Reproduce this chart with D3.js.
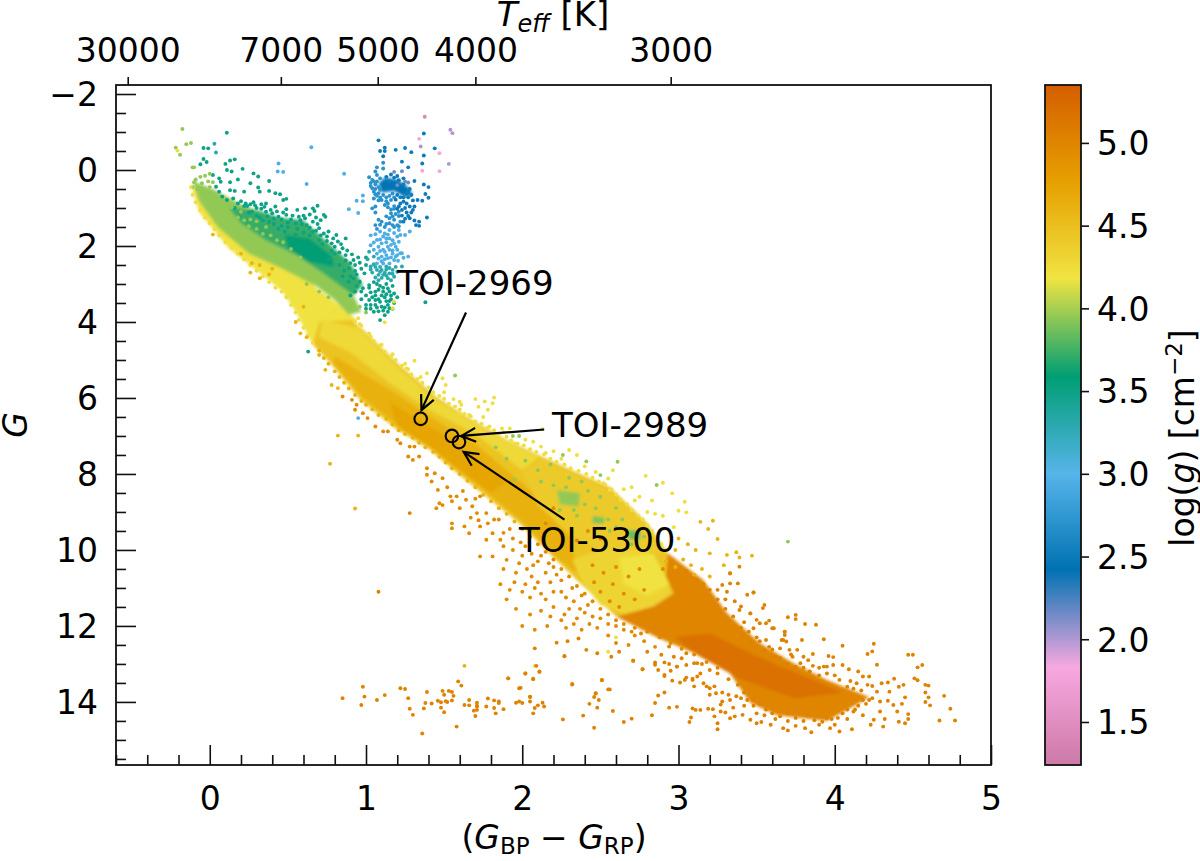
<!DOCTYPE html>
<html><head><meta charset="utf-8">
<script src="https://cdn.jsdelivr.net/npm/d3@7"></script>
<style>html,body{margin:0;padding:0;background:#fff}svg{display:block}text{font-family:"DejaVu Sans";fill:#000}</style>
</head><body><svg id="c" width="1200" height="861"></svg>
<script>
// ---- axis contents ----
const xTicks=[0,1,2,3,4,5];
const gTicks=[-2,0,2,4,6,8,10,12,14];
const teffLabels=["30000","7000","5000","4000","3000"];
const teffAtColour=[-0.525,0.455,1.075,1.70,2.95];
const loggTicks=[1.5,2,2.5,3,3.5,4,4.5,5];
const cmapLogg=[1.24,1.83,2.42,3.0,3.59,4.18,4.77,5.35];
const cmapColours=["#cc79a7","#f7a8e0","#0072b2","#56b4e9","#009e73","#f0e442","#e69f00","#d55e00"];

// ---- dense populations: outlines [colour, G] ----
const outlineYellowTurnoff=[[-.12,.4],[-.07,1.1],[.12,2.05],[.31,2.67],[.465,3.2],[.55,3.73],[.66,4.6],[.76,4.87],[.93,4.87],[.93,3.9],[.8,3.46],[.68,3.1],[.465,2.15],[.25,1.62],[.04,1],[-.09,.48]];
const outlineLimeTurnoff=[[-.11,.28],[.02,.5],[.2,.9],[.4,1.2],[.62,1.7],[.805,2.6],[.93,3.38],[.97,3.73],[.89,3.81],[.8,3.42],[.68,3.05],[.465,2.6],[.25,2.2],[.05,1.5],[-.07,.8]];
const outlineGreenTurnoff=[[.12,.98],[.32,1.08],[.45,1.25],[.6,1.32],[.74,1.85],[.9,2.45],[.98,3.03],[.92,3.3],[.72,2.7],[.56,2.25],[.36,1.85],[.2,1.4]];
const outlineDarkGreenCore=[[.48,1.7],[.64,1.8],[.78,2.25],[.8,2.55],[.63,2.42],[.5,2.05]];
const outlineMainBand=[[.66,4.6],[.77,5.08],[.96,6.05],[1.2,6.84],[1.41,7.37],[1.56,7.9],[1.77,8.6],[1.98,9.3],[2.2,10.2],[2.35,10.8],[2.6,11.75],[2.84,11.49],[2.97,11.14],[2.93,10.08],[2.8,9.29],[2.56,8.34],[2.32,7.9],[2.13,7.55],[1.9,7.1],[1.65,6.5],[1.45,5.97],[1.2,5.08],[.98,4.2],[.91,3.95],[.7,4.0]];
const outlineBandLower=[[.8,4.9],[1,5.4],[1.2,5.9],[1.45,6.6],[1.7,7.2],[1.9,7.9],[2.1,8.6],[2.3,9.4],[2.35,10.6],[2.2,10.15],[2.0,9.25],[1.79,8.55],[1.58,7.85],[1.43,7.32],[1.22,6.78],[.98,6.0],[.79,5.08]];
const outlineBandCore=[[1.15,6.1],[1.45,6.85],[1.7,7.55],[1.9,8.2],[1.8,8.5],[1.56,7.8],[1.41,7.3],[1.2,6.75]];
const outlineBandUpper=[[.72,3.95],[.95,4.15],[1.18,5.1],[1.43,6.0],[1.63,6.5],[1.88,7.1],[2.11,7.55],[2.0,7.9],[1.7,6.95],[1.4,6.3],[1.15,5.6],[.9,4.8],[.7,4.4]];
const outlineM1Mix=[[2.13,7.6],[2.3,7.95],[2.54,8.4],[2.78,9.3],[2.91,10.08],[2.5,10],[2.3,9.6],[2.1,8.8],[2,7.95]];
const outlineM1Yellow=[[2.32,10.26],[2.5,10],[2.8,10],[2.92,10.7],[2.95,11.14],[2.84,11.45],[2.67,11.7],[2.5,11.45],[2.39,10.88]];
const outlineM1Bright=[[2.62,10.2],[2.84,10.1],[2.94,10.9],[2.8,11.2],[2.65,10.9]];
const outlineLateOrange=[[2.93,10.08],[3.16,10.8],[3.31,11.66],[3.52,12.45],[3.73,12.97],[3.95,13.42],[4.22,13.87],[4.16,14.03],[3.95,14.5],[3.63,14.35],[3.46,14.03],[3.33,13.25],[3.09,12.7],[2.86,12.3],[2.6,11.75],[2.84,11.49],[2.97,11.14],[2.92,10.7]];
const outlineLateCore=[[3.2,12.2],[3.5,12.8],[3.85,13.4],[4.05,13.75],[3.75,13.9],[3.4,13.4],[3.1,12.7],[2.98,12.3]];
const outlineClump=[[1.08,.35],[1.12,.2],[1.2,.25],[1.27,.45],[1.3,.65],[1.25,.72],[1.18,.55],[1.1,.6]];
const outlineGreenPatchA=[[2.22,8.42],[2.37,8.5],[2.36,8.86],[2.24,8.8]];
const outlineGreenPatchB=[[2.45,9.1],[2.53,9.15],[2.52,9.32],[2.45,9.3]];
const outlineGreenPatchC=[[2.67,9.47],[2.76,9.5],[2.75,9.76],[2.68,9.72]];

// ---- individual stars [colour, G] ----
const rareMagenta=[[1.376,-1.40]];
const rarePurple=[[1.54,-1.06],[1.553,-.97],[1.35,-.62],[1.53,-.16]];
const rarePink=[[1.34,-.82],[1.47,-.44],[1.47,.03],[1.36,.02]];
const rareViolet=[[1.18,.05],[1.23,.03],[1.27,.33],[1.25,.3],[1.2,.4]];
const giantsDeepBlue=[[1.08,-.78],[1.09,-.5],[1.12,-.59],[1.12,-.5],[1.11,-.36],[1.19,-.53],[1.25,-.58],[1.29,-.47],[1.37,-.96],[1.44,-.57],[1.37,-.38],[1.36,-.17],[1.23,-.22],[1.27,-.07],[1.31,.29],[1.37,.38],[1.4,.45],[1.38,.63],[1.4,.73],[1.36,.81],[1.33,.79],[1.39,1.25],[1.31,1.33],[1.34,1.36],[1.32,1.45],[1.34,1.47],[1.29,1.12],[1.31,.96],[1.28,.96],[1.26,.88],[1.24,.83],[1.22,.88],[1.21,.96],[1.27,1.21],[1.28,1.27],[1.24,1.36],[1.29,.66],[1.27,.72],[1.3,.8],[1.25,1.0],[1.22,.72],[1.26,.62],[1.2,.66],[1.15,.3],[1.18,.2],[1.21,.27],[1.24,.38],[1.28,.5],[1.27,.57],[1.23,1.05],[1.2,1.02],[1.26,1.12],[1.23,1.2],[1.25,1.28],[1.3,1.05],[1.19,.78],[1.24,.72],[1.16,.12],[1.2,.16],[1.24,.22],[1.13,.18]];
const giantsBlue=[[1.11,-.19],[1.07,-.07],[1.11,-.04],[1.06,.04],[1.02,.19],[1.03,.42],[1.07,.13],[1.05,.75],[1.05,.57],[1.08,.61],[1.1,.79],[1.12,.92],[1.14,.88],[1.16,.79],[1.16,1.14],[1.15,1.27],[1.21,1.21],[1.21,1.1],[1.18,1.31],[1.22,1.36],[1.17,1.45],[1.08,1.31],[1.06,1.45],[1.09,1.44],[1.04,1.01],[1.06,.96],[1.06,1.12],[1.07,.3],[1.09,.22],[1.05,.3],[1.08,.45],[1.11,.66],[1.13,.72],[1.04,.48],[1.09,.72],[1.07,.68],[1.18,.72],[1.14,.98],[1.18,1.02],[1.19,1.16],[1.13,1.42],[1.2,1.45],[1.06,.38],[1.04,.26],[1.03,.34],[1.06,.5],[1.09,.52],[1.06,.64],[1.08,.8],[1.13,.82],[1.15,.68],[1.17,.62],[1.18,.95],[1.16,1.04],[1.17,1.22],[1.13,1.22],[1.1,1.36],[1.12,1.5],[1.15,1.4],[1.18,1.5],[1.21,1.48],[1.07,1.55]];
const giantsPale=[[.65,-.6],[.44,-.17],[.435,.04],[.47,.05],[.86,.1],[.62,.37],[.98,.67],[.94,.81],[.98,.82],[.89,1.03],[.95,1.13],[1.12,1.67],[1.15,1.58],[1.21,1.58],[1.2,1.75],[1.15,1.8],[1.11,1.75],[1.06,1.69],[1.09,1.62],[1.22,1.71],[1.28,1.62],[1.25,1.71],[1.16,1.97],[1.19,2.02],[1.21,1.89],[1.19,2.28],[1.22,2.19],[1.18,2.37],[1.11,2.1],[1.08,2.02],[1.05,1.91],[1.13,2.24],[1.1,2.28],[1.07,2.46],[1.15,2.46],[1.11,2.46],[1.23,2.19],[1.24,2.31],[1.27,2.28],[1.205,2.39],[1.13,1.9],[1.17,2.12],[1.09,1.83],[1.14,2.02],[1.2,2.1],[1.07,2.2],[1.12,2.35],[1.16,2.3],[1.03,1.72],[.95,6.53],[1.18,1.66],[1.14,1.7],[1.17,1.85],[1.13,1.8],[1.1,1.93],[1.07,1.84],[1.18,1.93],[1.15,2.1],[1.12,2.15],[1.09,2.13],[1.17,2.2],[1.2,2.24],[1.14,2.32],[1.1,2.4],[1.08,2.33],[1.05,2.1],[1.03,1.98]];
const giantsTeal=[[1.02,2.15],[1.05,2.28],[1.03,2.54],[1.07,2.63],[1.1,2.63],[1.13,2.54],[1.17,2.63],[1.15,2.72],[1.11,2.76],[1.08,2.76],[1.18,2.81],[1.14,2.85],[1.23,2.54],[1.01,2.35],[1.05,2.48],[1.12,2.7],[1.09,2.55],[1.19,2.55],[.03,-.69],[.04,-.46],[1.04,2.7],[1.08,2.9],[1.16,2.9],[1.06,2.55],[1.09,2.68],[1.13,2.62],[1.15,2.58],[1.17,2.73],[1.13,2.78],[1.1,2.84],[1.06,2.83],[1.03,2.62],[1.2,2.68]];
const giantsGreen=[[1.05,2.95],[1.09,3.05],[1.13,3.0],[1.17,3.05],[1.02,3.1],[1.06,3.2],[1.11,3.2],[1.15,3.2],[1.18,3.25],[1.04,3.35],[1.08,3.4],[1.12,3.35],[1.16,3.4],[1.18,3.5],[1.06,3.55],[1.1,3.6],[1.14,3.55],[1.17,3.65],[1.05,3.73],[1.14,3.73],[1.09,3.95],[1.38,3.48],[.63,4.78],[1.03,3.55],[1.08,3.72],[1.12,3.82],[1.15,3.45],[1.2,3.35],[1.0,3.3],[.97,3.4],[.93,3.2],[.9,3.3],[1.0,3.55],[1.07,3.0],[1.11,3.1],[1.14,3.12],[1.08,3.15],[1.03,3.22],[1.06,3.3],[1.1,3.3],[1.13,3.27],[1.16,3.3],[1.09,3.47],[1.13,3.45],[1.06,3.42],[1.02,3.42],[1.12,3.62],[1.15,3.64],[1.03,3.65],[1.0,3.65],[1.07,3.62],[1.11,3.7]];
const turnoffGreen=[[.109,-.98],[-.04,-.58],[-.01,-.57],[-.04,-.29],[-.02,-.21],[-.06,-.15],[.1,-.16],[.13,-.25],[.16,-.28],[.11,0],[.14,.04],[.21,-.03],[.18,.25],[.28,.09],[.31,.17],[.26,.35],[.38,.29],[.31,.46],[.32,.57],[.22,.57],[.13,.53],[.16,.55],[.13,.32],[.06,.22],[.02,.13],[.07,.31],[.04,.44],[.06,.57],[.08,.7],[.11,.79],[.15,.75],[.38,.55],[.42,.61],[.45,.64],[.47,.79],[.49,.76],[.36,.88],[.42,.96],[.49,1.03],[.4,1.14],[.44,1.23],[.49,1.18],[.56,1.05],[.61,1.01],[.66,1.01],[.69,.94],[.67,1.08],[.73,1.18],[.74,1.23],[.57,1.23],[.61,1.27],[.66,1.36],[.7,1.53],[.73,1.67],[.78,1.93],[.81,1.71],[.82,1.88],[.87,1.8],[.78,2.13],[.85,2.06],[.87,2.24],[.92,2.37],[.93,2.5],[1,2.3],[1,2.5],[.99,2.72],[.89,2.59],[.83,2.5],[.85,2.8],[.89,2.94],[.96,2.94],[1.02,3.03],[.98,3.11],[.33,.9],[.28,.85],[.24,.95],[.3,1.0],[.36,1.1],[.32,1.25],[.52,1.3],[.55,1.4],[.62,1.45],[.68,1.6],[.75,1.75],[.72,1.95],[.8,2.2],[.76,2.35],[.9,2.8],[.94,2.75],[.97,3.2],[.94,3.05],[.22,.95],[.18,.88],[.27,1.1],[.16,1.0],
 [.2,.82],[.23,.88],[.26,.9],[.29,.93],[.33,1.02],[.35,.97],[.39,1.05],[.43,1.09],[.47,1.12],[.46,1.3],[.41,1.28],[.37,1.22],[.34,1.33],[.3,1.2],[.25,1.12],[.5,1.38],[.53,1.2],[.58,1.32],[.6,1.2],[.64,1.17],[.68,1.25],[.71,1.32],[.69,1.42],[.64,1.52],[.59,1.42],[.56,1.55],[.5,1.5],[.46,1.47],[.41,1.42],[.38,1.37],[.66,1.62],[.71,1.72],[.76,1.62],[.79,1.8],[.75,1.87],[.84,1.95],[.8,2.02],[.88,2.12],[.83,2.17],[.91,2.22],[.95,2.3],[.9,2.45],[.96,2.44],[.97,2.6],[.93,2.66],[.86,2.65],[.92,2.85],[.87,2.38],[.7,1.85],[.64,1.72],[.6,1.65],[.55,1.7],[.48,1.62],[.44,1.55]];
const turnoffLime=[[-.175,-1.08],[-.15,-.68],[-.12,-.71],[-.11,-.07],[-.1,-.07],[-.218,-.59],[-.19,-.4],[.0,.1],[-.03,.15],[-.06,.18],[-.09,.25],[-.1,.32],[-.05,.35],[-.01,.3],[.02,.32],[.0,.45],[.05,.7],[.09,.95],[.14,.98],[.2,1.1],[.26,1.3],[.3,1.35],[.36,1.5],[.62,3.0],[.7,3.2],[.76,3.35],[.9,3.55],[.96,3.6],[1.0,3.75],[.86,3.45],[2.61,7.68],[2.86,8.29],[3.7,9.78],[1.94,7.0],[1.98,7.0],[2.26,7.5],[2.41,7.67],[2.5,8.03],[1.57,5.41],[2.3,8.1],[2.38,8.2],[2.18,7.75],[2.1,7.9],[2.02,7.65],[1.9,7.6],[1.83,7.3],[2.42,8.45],[2.5,8.6],[2.6,8.9],[2.64,9.2],[2.24,8.95],[2.12,8.2],[1.95,8.15],[2.35,9.1],[2.56,9.5],
 [-.11,.45],[-.08,.5],[-.05,.48],[-.02,.55],[.01,.62],[.03,.8],[.07,.82],[.11,1.02],[.13,1.18],[.18,1.25],[.22,1.32],[.25,1.48],[.3,1.55],[.34,1.68],[.39,1.72],[.43,1.85],[.47,1.9],[.52,2.08],[.58,2.3],[.63,2.6],[.68,2.75],[.73,2.95],[.78,3.1],[.82,3.25],[.86,3.2],[2.2,8.3],[2.28,8.35],[2.33,8.95],[2.4,8.8],[2.47,8.9],[2.55,9.2],[2.6,9.4],[2.65,9.7],[2.7,9.85],[2.78,9.65]];
const starsYellow=[[-.207,-.51],[1.12,4.01],[1.17,3.64],[1.18,3.46],[.8,3.72],[.95,3.9],[1.31,5.02],[1.27,5.24],[1.39,5.35],[1.35,5.45],[1.49,5.48],[1.51,5.66],[1.56,6.03],[1.61,6.18],[1.7,6.03],[1.76,6.09],[1.82,5.99],[1.81,6.14],[1.78,6.31],[1.72,6.23],[1.66,6.45],[1.79,6.75],[1.87,6.8],[1.92,6.8],[2.13,6.82],[2.07,7.15],[2.12,7.28],[2.15,7.45],[2.3,7.37],[2.35,7.5],[2.52,8.24],[2.56,8.42],[2.58,7.9],[2.79,8.05],[2.9,8.23],[2.96,8.51],[3.04,8.73],[3.0,8.97],[3.05,9.01],[2.75,8.6],[2.7,8.35],[2.83,8.7],[2.9,9.1],[2.97,9.4],[2.47,7.95],[2.55,8.12],[.96,4.05],[1.02,4.3],[1.1,4.6],[1.17,4.85],[1.25,5.1],[1.36,5.6],[1.6,6.4],[1.95,7.2],[2.6,12.3],[2.08,13.05],[2.55,12.68],
 [-.12,.45],[-.11,.65],[-.09,.85],[-.06,1.05],[-.03,1.25],[0,1.4],[.03,1.55],[.06,1.72],[.1,1.9],[.14,2.05],[.18,2.2],[.22,2.35],[.26,2.5],[.3,2.65],[.34,2.8],[.38,2.95],[.42,3.1],[.46,3.2],[.49,3.35],[.52,3.55],[.55,3.75],[.57,3.95],[.6,4.15],[.63,4.35],[.66,4.55],[.93,3.98],[.97,4.1],[.99,4.3],[1.03,4.38],[1.05,4.5],[1.09,4.62],[1.12,4.78],[1.16,4.92],[1.19,5.0],[1.23,5.15],[1.26,5.22],[1.29,5.38],[1.33,5.5],[1.36,5.62],[1.4,5.72],[1.43,5.85],[1.47,5.95],[1.5,6.02],[1.53,6.15],[1.57,6.22],[1.6,6.3],[1.63,6.42],[1.67,6.48],[1.7,6.62],[1.74,6.68],[1.78,6.78],[1.82,6.85],[1.85,6.95],[1.9,7.02],[1.93,7.12],[1.97,7.2],[2.01,7.25],[2.05,7.35],[2.09,7.42],[2.14,7.48],[2.18,7.6],[2.22,7.68],[2.27,7.75],[2.31,7.85],[2.36,7.92],[2.41,8.0],[2.45,8.1],[2.49,8.2],[2.53,8.28],[2.57,8.4],[2.6,8.55],[2.63,8.68],[2.67,8.8],[2.7,8.95],[2.74,9.1],[2.77,9.2],[2.8,9.35],[2.83,9.5],[2.86,9.65],[2.89,9.85],[2.92,10.0],[1.5,5.85],[1.6,6.1],[1.75,6.5],[1.88,6.9],[2.02,7.1],[2.2,7.4],[2.25,7.6],[2.4,7.8],[2.65,8.4],[2.72,8.7],[2.85,9.05],[2.8,9.0],[2.9,9.45]];
const starsAmber=[[3.14,9.26],[3.22,9.23],[3.19,9.45],[3.25,9.71],[.82,6.99],[.95,6.99],[.77,7.73],[.93,8.91],[3.0,9.7],[3.06,9.85],[3.11,10.0],[2.98,10.0],[.6,3.6],[.62,4.4],[.7,4.87],[.74,5.26],[.78,5.66],[.82,5.74],[3.2,10.09],[3.29,10.4],[3.31,10.13],[3.37,10.06],[3.39,10.2],[3.47,10.15],[.32,2.5],[.26,2.7],[.32,2.85],[.38,2.75],[.4,2.6],[.27,2.45],[.2,2.2],[.02,1.7],[.55,4.0],[.58,4.3],[1.63,13.05],[2.92,10.3],[2.98,10.45],[3.03,10.25],[3.08,10.4],[3.1,10.65],[3.15,10.5],[3.2,10.7],[.7,4.75],[.73,4.95],[.76,5.1],[.8,5.3],[.83,5.45],[.86,5.6],[.89,5.75],[.93,5.92],[.97,6.08],[1.0,6.18],[1.04,6.3],[1.08,6.45],[1.13,6.55],[1.17,6.7],[1.21,6.85],[1.25,6.95],[1.3,7.05],[1.34,7.18],[1.38,7.3],[1.43,7.42],[1.47,7.55],[1.51,7.7],[1.55,7.85],[1.6,8.0],[1.65,8.18],[1.7,8.35],[1.75,8.55],[1.8,8.72],[1.85,8.9],[1.9,9.05],[1.95,9.25],[2.0,9.45]];
const starsOrange=[[.85,5.96],[.91,6.05],[.94,6.18],[.93,6.31],[.98,6.4],[1.01,6.53],[1.06,6.75],[1.11,6.88],[1.14,6.88],[1.2,7.1],[1.22,7.19],[1.28,7.28],[1.31,7.28],[1.3,7.63],[1.27,7.54],[1.34,7.54],[1.39,7.85],[1.39,8.02],[1.44,7.98],[1.49,8.11],[1.46,8.42],[1.54,8.59],[1.55,8.72],[1.47,8.77],[1.49,8.82],[1.45,8.9],[1.55,9.3],[1.55,9.43],[1.63,9.38],[1.71,9.03],[1.64,8.68],[1.58,8.59],[1.73,8.59],[1.77,9.03],[1.66,9.56],[1.73,9.38],[1.81,9.56],[1.86,9.73],[1.77,9.73],[1.73,10.17],[1.81,10.17],[1.9,10.26],[1.94,10],[1.98,10.35],[1.6,8.9],[1.68,8.85],[1.85,9.2],[1.92,9.45],[2.02,9.9],[2.06,10.1],[1.88,9.9],[1.96,10.6],[2.03,10.5],[2.1,10.3],[2.15,10.6],[2.2,10.45],[2.25,10.8],[2.1,10.85],[1.95,10.85],[1.88,10.5],[1.86,10.9],[2.0,11.1],[2.05,11.25],[2.12,11.15],[2.2,11.1],[2.28,11.25],[2.32,11.0],[2.38,11.2],[2.42,11.45],[2.3,11.55],[2.2,11.5],[2.12,11.6],[2.05,11.7],[1.96,11.55],[1.9,11.3],[2.25,11.85],[2.35,11.8],[2.45,11.75],[2.55,11.95],[2.48,12.05],[2.38,12.1],[2.28,12.05],[2.16,12.0],[2.08,12.1],[2.0,12.0],[2.55,12.25],[2.65,12.1],[2.72,12.25],[2.78,12.4],[2.6,12.45],[2.68,12.5],[2.85,12.55],
 [2.05,9.65],[2.1,9.85],[2.15,10.05],[2.2,10.25],[2.25,10.5],[2.3,10.7],[2.35,10.95],[2.4,11.15],[2.45,11.35],[2.5,11.55],[2.55,11.7],[2.6,11.85],[2.65,11.95],[2.72,12.05],[2.8,12.15],[2.88,12.3],[2.95,12.45],[3.02,12.6],[3.1,12.75],[3.18,12.95],[3.25,13.1],[1.42,8.2],[1.52,8.35],[1.62,8.45],[1.7,8.65],[1.67,9.15],[1.72,9.22],[1.78,9.3],[1.82,9.2],[1.88,9.55],[1.94,9.7],[1.99,9.8],[2.0,10.15],[2.07,10.4],[2.12,10.15],[2.17,10.35],[2.22,10.65],[2.18,10.85],[2.06,10.7],[2.02,10.9],[1.92,11.05],[2.08,11.0],[2.15,11.3],[2.25,11.1],[2.33,11.35],[2.37,11.55],[2.27,11.7],[2.18,11.75],[2.4,11.65],[2.5,11.8],[2.43,11.95],[2.33,11.95],[2.6,12.0],[2.7,12.15],[2.76,12.2],[2.45,10.4],[2.52,10.6],[2.6,10.45],[2.68,10.7],[2.75,10.5],[2.58,10.9],[2.65,11.15],[2.72,11.3],[2.5,11.1],[2.46,10.85],[2.56,11.35],[2.78,11.05],[2.62,11.5],[2.9,10.5],[2.2,8.9],[2.15,9.3],[2.25,9.55],[2.35,9.75],[2.42,9.5],[2.5,9.7]];
const starsDeepOrange=[[1.28,9.03],[1.08,11.1],[.85,13.9],[.98,13.6],[.99,13.86],[.97,14.08],[1.07,13.95],[1.12,13.82],[1.22,13.64],[1.25,13.66],[1.27,13.9],[1.28,14.18],[1.3,14.34],[1.36,14.83],[1.37,14.17],[1.38,14.03],[1.39,13.74],[1.42,14.04],[1.46,13.97],[1.48,14.15],[1.48,14.01],[1.49,13.71],[1.5,14.27],[1.5,13.81],[1.51,13.98],[1.52,14],[1.53,13.71],[1.55,13.74],[1.55,13.96],[1.56,13.84],[1.58,14.65],[1.59,13.46],[1.61,13.57],[1.63,14.08],[1.66,14.09],[1.66,13.95],[1.69,14.23],[1.7,14.37],[1.71,14.02],[1.71,14.1],[1.71,14.21],[1.71,14.12],[1.77,14.12],[1.78,13.91],[1.82,13.96],[1.82,14.16],[1.83,14.3],[1.85,13.99],[1.85,14.03],[1.88,14.19],[1.91,13.38],[1.96,14.02],[1.98,13.99],[2,14.03],[1.99,13.63],[2.02,13.25],[2.05,13.87],[2.05,13.99],[2.07,13.39],[2.07,14.3],[2.08,14.16],[2.1,14.09],[2.11,13.21],[2.13,14.02],[2.14,14.12],[2.26,14.46],[2.27,12.8],[2.32,13.53],[2.39,14.36],[2.43,14.05],[2.46,13.87],[2.46,14.68],[2.47,13.78],[2.48,14.15],[2.49,13.95],[2.51,13.43],[2.56,13.67],[2.58,14.24],[2.65,14.53],[2.7,14.44],[2.71,12.92],[2.77,13.14],[2.83,14.35],[2.85,14.03],[2.85,13.02],[2.87,13.83],[2.08,12.59],[2.09,13.05],[2.11,13.2],[2.02,13.25],[2.07,13.4],[1.91,13.38],[1.98,13.64],[2.05,13.86],[2.32,13.54],[2.51,13.42],[2.55,13.67],[2.47,13.77],[2.22,12.44],[2.27,12.79],[2.29,12.4],[2.36,12.33],[2.41,12.63],[2.48,12.72],[2.57,12.81],[2.62,12.68],[2.71,12.91],[2.77,13.14],[2.8,12.68],[2.85,12.96],[2.91,12.96],[2.87,13.16],[2.91,13.32],[2.99,13.07],[3.04,13.42],[3.09,13.42],[3.16,13.51],[3.2,13.64],[3.24,13.77],[2.97,12.81],[3.05,13.03],[3.1,12.98],[3.14,13.25],[3.2,13.16]];
const lateUpperEdge=[[3.48,11.12],[3.44,11.18],[3.55,11.45],[3.54,11.53],[3.7,11.77],[3.75,11.71],[3.75,11.82],[3.81,11.95],[3.88,11.97],[3.58,11.86],[3.6,12.06],[3.68,12.15],[3.68,12.24],[3.66,12.37],[3.69,12.41],[3.79,12.37],[3.93,12.35],[4.05,12.52],[4.25,12.47],[4.24,12.67],[4.21,12.74],[4.27,13.02],[4.47,12.76],[4.5,12.76],[4.56,13.03],[4.53,13.09],[4.51,13.38],[4.53,13.43],[4.58,13.55],[4.6,13.57],[4.58,13.75],[4.6,13.88],[4.58,14],[4.61,14.09],[4.7,13.84],[4.74,14.18],[4.67,14.49],[4.77,14.49],[4.45,13.88],[4.43,14.05],[4.47,14.32],[4.47,14.45],[4.45,14.56],[4.41,14.52],[4.44,13.55],[4.41,13.6],[4.38,13.39],[4.34,13.49],[4.3,13.51],[4.35,13.73],[4.27,13.73],[4.29,13.99],[4.34,13.97],[4.375,14.08],[4.29,14.25],[4.25,14.47],[4.23,14.6],[4.31,14.65],[4.32,14.45],[4.4,14.25],[4.11,14.72],[4.03,14.78],[3.97,14.69],[3.85,14.8],[3.81,14.69],[3.75,14.63],[3.7,14.75],[3.67,14.69],[3.59,14.6],[3.53,14.53],[3.5,14.56],[3.46,14.47],[3.41,14.34],[3.36,14.38],[3.33,14.43],[3.3,14.28],[3.25,14.72],[3.25,14.56],[3.23,14.38],[3.27,14.25],[3.22,14.19],[3.19,14.18],[3.14,14.21],[3.11,14.21],[3.09,14.17],[3.08,14.41],[3.07,14.53],[2.99,14.13],[2.94,14.15],[2.91,13.75],[3.1,13.59],[3.18,13.59],[3.23,13.59],[3.2,13.81],[3.28,13.99],[3.27,14.07],[3.32,13.81],[3.33,13.95],[3.37,13.85],[3.01,13.49],[2.96,13.44],[3.05,13.36],[3.09,13.39],[3.12,13.33],[2.99,13.07],[2.94,13],[2.91,13.29],[2.95,13.18],[3.95,13.07],[3.99,13.03],[4.05,13.03],[4.09,13.14],[4.15,13.2],[4.22,13.33],[4.21,13.55],[4.24,13.58],[4.18,13.33],[4.14,13.51],[4.1,13.45],[4.24,13.9],[4.18,13.95],[4.12,14.25],[4.18,14.35],[4.08,14.45],[4.0,14.6],[3.9,14.6],[3.76,12.63],[3.8,12.81],[3.86,12.74],[3.83,12.9],[3.96,12.79],[3.99,12.82],[3.93,13.07],[3.9,13.1],[3.78,12.98],[3.73,12.81],[3.65,12.59],[3.6,12.62],[3.56,12.37],[3.52,11.93],[3.48,12.06],[3.41,12.28],[3.46,11.67],[3.39,11.58],[3.31,11.1],[3.38,10.88],[3.33,10.88],[3.28,10.92],[3.33,10.61],[3.39,10.44],[3.33,10.62],[3.48,11.12],[3.4,11.49],[3.46,11.67],[3.5,11.84],[3.56,11.93],[3.61,12.06],[3.68,12.15],[3.67,12.37],[3.71,12.63],[3.25,11.05],[3.3,11.3],[3.36,11.35],[3.42,11.9],[3.45,12.15],[3.5,12.3],[3.55,12.65],[3.62,12.8],[3.7,13.0],[3.72,12.75],[3.86,13.05],[2.89,12.76],[2.94,12.54],[3.05,12.72],[3.12,12.98],[3.02,12.85],[3.15,13.0],[3.25,13.25],[3.32,13.4],[3.38,13.55],[3.45,13.6],[3.42,13.75],[3.48,13.9],[3.56,14.2],[3.62,14.45],[3.42,14.1],[3.35,14.15],[3.28,13.75],[3.7,14.5],[3.8,14.5],[3.95,14.42],[4.05,14.3],[4.15,14.1],
 [3.4,13.9],[3.44,13.95],[3.48,14.1],[3.52,14.05],[3.5,14.3],[3.55,14.35],[3.6,14.3],[3.65,14.38],[3.7,14.3],[3.75,14.42],[3.82,14.35],[3.87,14.48],[3.92,14.52],[3.98,14.45],[4.02,14.42],[4.08,14.2],[4.13,14.2],[4.2,14.05],[4.22,13.95],[4.17,13.7],[4.12,13.65],[4.08,13.6],[4.03,13.42],[4.0,13.3],[3.95,13.25],[3.9,13.3],[3.84,13.2],[3.8,13.1],[3.75,13.08],[3.65,12.85],[3.58,12.55],[3.52,12.4],[3.46,12.42],[3.4,12.05],[3.35,11.75],[3.3,11.55],[3.25,11.3],[3.2,11.05],[3.16,10.9],[3.12,10.8],[3.05,10.55]];

// ---- three planet hosts and their notes ----
const hostNames=["TOI-2969","TOI-2989","TOI-5300"];
const hostColour=[1.35,1.55,1.595];
const hostG=[6.55,7.0,7.16];
const labelColour=[1.70,2.69,2.48];
const labelG=[3.3,7.03,10.05];
const tailColour=[1.64,2.14,2.27];
const tailG=[3.75,6.83,9.2];
const tipColour=[1.355,1.61,1.625];
const tipG=[6.32,7.0,7.42];

const polygons=[
 [outlineYellowTurnoff,4.2],[outlineLimeTurnoff,3.95],[outlineGreenTurnoff,3.72],[outlineDarkGreenCore,3.58],
 [outlineMainBand,4.45],[outlineBandUpper,4.27],[outlineBandLower,4.62],[outlineBandCore,4.72],
 [outlineM1Mix,4.4],[outlineM1Yellow,4.32],[outlineM1Bright,4.2],[outlineLateOrange,5.0],[outlineLateCore,5.18],
 [outlineGreenPatchA,3.95],[outlineGreenPatchB,3.9],[outlineGreenPatchC,3.85],[outlineClump,2.45]];
const starGroups=[
 [turnoffGreen,3.5],[turnoffLime,3.95],[giantsGreen,3.5],[giantsTeal,3.3],[giantsPale,2.95],[giantsBlue,2.7],[giantsDeepBlue,2.5],
 [rareViolet,2.15],[rarePurple,2.0],[rarePink,1.8],[rareMagenta,1.4],
 [starsYellow,4.22],[starsAmber,4.6],[starsOrange,4.95],[starsDeepOrange,5.03],[lateUpperEdge,5.03]];

// ---- drawing ----
const svg=d3.select("#c");
const L=116,R=991,T=85,B=765,CL=1045,CR=1081;
const x=d3.scaleLinear().domain([-.6,5]).range([L,R]);
const y=d3.scaleLinear().domain([-2.237,15.66]).range([T,B]);
const cy=d3.scaleLinear().domain([1.24,5.35]).range([B,T]);
const colour=d3.scaleLinear().domain(cmapLogg).range(cmapColours).clamp(true);
const INK="#111";

const defs=svg.append("defs");
defs.append("filter").attr("id","soft").attr("x","-5%").attr("y","-5%").attr("width","110%").attr("height","110%")
 .append("feGaussianBlur").attr("stdDeviation",1.6);
const grad=defs.append("linearGradient").attr("id","cbar").attr("x1",0).attr("x2",0).attr("y1",1).attr("y2",0);
const lo=cmapLogg[0],hi=cmapLogg[cmapLogg.length-1];
cmapLogg.forEach((v,i)=>grad.append("stop").attr("offset",(v-lo)/(hi-lo)).attr("stop-color",cmapColours[i]));

const line=d3.line().x(d=>x(d[0])).y(d=>y(d[1])).curve(d3.curveLinearClosed);
svg.append("g").attr("filter","url(#soft)").selectAll("path").data(polygons).join("path")
 .attr("d",d=>line(d[0])).attr("fill",d=>colour(d[1]));
const stars=svg.append("g");
starGroups.forEach(([pts,g])=>{
 stars.append("g").selectAll("circle").data(pts).join("circle")
  .attr("cx",d=>x(d[0])).attr("cy",d=>y(d[1])).attr("r",1.95).attr("fill",colour(g));
});

// hosts, arrows, notes
svg.append("g").selectAll("circle").data(hostNames).join("circle")
 .attr("cx",(d,i)=>x(hostColour[i])).attr("cy",(d,i)=>y(hostG[i])).attr("r",6.3)
 .attr("fill","none").attr("stroke","#000").attr("stroke-width",2.1);
hostNames.forEach((n,i)=>{
 const x0=x(tailColour[i]),y0=y(tailG[i]),x1=x(tipColour[i]),y1=y(tipG[i]);
 const a=Math.atan2(y1-y0,x1-x0),hl=16,hw=.45;
 const g=svg.append("g").attr("fill","none").attr("stroke","#000").attr("stroke-width",2.2);
 g.append("path").attr("d",`M${x0},${y0}L${x1},${y1}`);
 g.append("path").attr("d",`M${x1-hl*Math.cos(a-hw)},${y1-hl*Math.sin(a-hw)}L${x1},${y1}L${x1-hl*Math.cos(a+hw)},${y1-hl*Math.sin(a+hw)}`);
 svg.append("text").attr("x",x(labelColour[i])).attr("y",y(labelG[i])).attr("text-anchor","middle")
  .attr("font-size",34).text(n);
});

// axes
const FS=33;
function dress(g){g.select(".domain").remove();g.selectAll("line").attr("stroke",INK).attr("stroke-width",1.6);
 g.selectAll("text").attr("font-size",FS).attr("font-family","DejaVu Sans").attr("fill","#000");}
const fmtMinus=d=>d<0?"\u2212"+Math.abs(d):""+d;
const bottomMajor=svg.append("g").attr("transform",`translate(0,${B})`)
 .call(d3.axisBottom(x).tickValues(xTicks).tickFormat(d3.format("d")).tickSizeInner(-20).tickSizeOuter(0));
dress(bottomMajor);bottomMajor.selectAll("text").attr("y",19).attr("dy","0.8em");
const xMinor=d3.range(-.6,5.001,.2).map(v=>+v.toFixed(1)).filter(v=>!xTicks.includes(v));
const bottomMinor=svg.append("g").attr("transform",`translate(0,${B})`)
 .call(d3.axisBottom(x).tickValues(xMinor).tickFormat("").tickSizeInner(-10).tickSizeOuter(0));dress(bottomMinor);
const leftMajor=svg.append("g").attr("transform",`translate(${L},0)`)
 .call(d3.axisLeft(y).tickValues(gTicks).tickFormat(fmtMinus).tickSizeInner(-20).tickSizeOuter(0));
dress(leftMajor);leftMajor.selectAll("text").attr("x",-18).attr("dy","0.36em");
const gMinor=d3.range(-2,15.51,.5).filter(v=>!gTicks.includes(v));
const leftMinor=svg.append("g").attr("transform",`translate(${L},0)`)
 .call(d3.axisLeft(y).tickValues(gMinor).tickFormat("").tickSizeInner(-10).tickSizeOuter(0));dress(leftMinor);
const topAxis=svg.append("g").attr("transform",`translate(0,${T})`)
 .call(d3.axisTop(x).tickValues(teffAtColour).tickFormat((d,i)=>teffLabels[i]).tickSizeInner(8).tickSizeOuter(0));
dress(topAxis);topAxis.selectAll("text").attr("y",-23).attr("dy","0");
svg.append("rect").attr("x",L).attr("y",T).attr("width",R-L).attr("height",B-T).attr("fill","none").attr("stroke",INK).attr("stroke-width",1.8);

// colour bar
svg.append("rect").attr("x",CL).attr("y",T).attr("width",CR-CL).attr("height",B-T).attr("fill","url(#cbar)").attr("stroke",INK).attr("stroke-width",1.8);
const cAxis=svg.append("g").attr("transform",`translate(${CR},0)`)
 .call(d3.axisRight(cy).tickValues(loggTicks).tickFormat(d3.format(".1f")).tickSizeInner(8).tickSizeOuter(0));
dress(cAxis);cAxis.selectAll("text").attr("x",16).attr("dy","0.36em");

// titles
function rich(sel,parts){parts.forEach(p=>{const t=sel.append("tspan").text(p.t);
 if(p.i)t.attr("font-style","italic");if(p.s)t.attr("font-size",p.s);if(p.d)t.attr("dy",p.d);});}
const tTop=svg.append("text").attr("x",553).attr("y",26).attr("text-anchor","middle").attr("font-size",34);
rich(tTop,[{t:"T",i:1},{t:"eff",i:1,s:24,d:6},{t:" [K]",d:-6}]);
const tBot=svg.append("text").attr("x",554).attr("y",849).attr("text-anchor","middle").attr("font-size",33);
rich(tBot,[{t:"("},{t:"G",i:1},{t:"BP",s:23,d:5},{t:" \u2212 ",d:-5},{t:"G",i:1},{t:"RP",s:23,d:5},{t:")",d:-5}]);
const tLeft=svg.append("text").attr("transform","translate(27,425) rotate(-90)").attr("text-anchor","middle").attr("font-size",33);
rich(tLeft,[{t:"G",i:1}]);
const tRight=svg.append("text").attr("transform","translate(1194,438) rotate(-90)").attr("text-anchor","middle").attr("font-size",33);
rich(tRight,[{t:"log("},{t:"g",i:1},{t:") [cm"},{t:"\u22122",s:23,d:-12},{t:"]",d:12}]);
</script></body></html>
